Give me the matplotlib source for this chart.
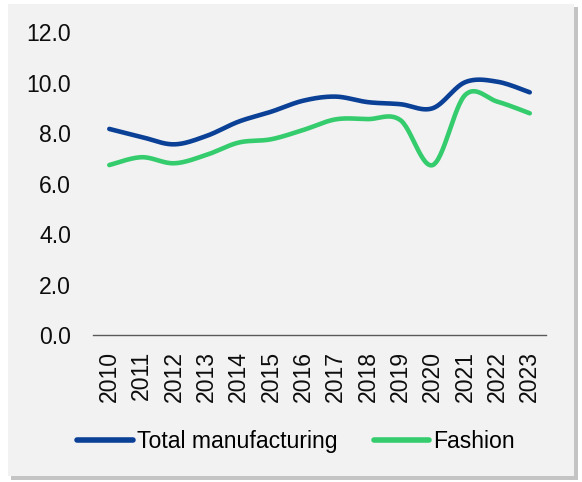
import numpy as np
import matplotlib
matplotlib.use("Agg")
import matplotlib.pyplot as plt
from matplotlib.patches import Rectangle

plt.rcParams['font.family'] = ['Liberation Sans', 'DejaVu Sans']

years = ["2010", "2011", "2012", "2013", "2014", "2015", "2016",
         "2017", "2018", "2019", "2020", "2021", "2022", "2023"]
total_manufacturing = [8.18, 7.86, 7.57, 7.90, 8.47, 8.86, 9.30,
                       9.46, 9.24, 9.16, 9.00, 10.03, 10.05, 9.63]
fashion = [6.75, 7.06, 6.82, 7.15, 7.64, 7.77, 8.14,
           8.56, 8.57, 8.53, 6.75, 9.52, 9.26, 8.80]

blue = "#0B4097"
green = "#35CC6E"


def smooth(xs, ys, n=30):
    # excel-like smoothed line: cubic bezier between points
    p = np.column_stack([xs, ys]).astype(float)
    ext = np.vstack([p[0], p, p[-1]])
    out = []
    t = np.linspace(0, 1, n)[:, None]
    for i in range(1, len(ext) - 2):
        p0, p1, p2, p3 = ext[i - 1], ext[i], ext[i + 1], ext[i + 2]
        c1 = p1 + (p2 - p0) / 6
        c2 = p2 - (p3 - p1) / 6
        seg = ((1 - t) ** 3) * p1 + 3 * ((1 - t) ** 2) * t * c1 + 3 * (1 - t) * t ** 2 * c2 + t ** 3 * p2
        out.append(seg if i == 1 else seg[1:])
    out = np.vstack(out)
    return out[:, 0], out[:, 1]


fig = plt.figure(figsize=(5.82, 4.82), dpi=100, facecolor="white")
# panel with a soft shadow
fig.patches.append(Rectangle((11 / 582, 2 / 482), 567 / 582, 1 - 9 / 482, transform=fig.transFigure,
                             facecolor="#C4C4C4", edgecolor="none", zorder=-2))
fig.patches.append(Rectangle((8 / 582, 6 / 482), 566 / 582, 1 - 10 / 482, transform=fig.transFigure,
                             facecolor="#F2F2F2", edgecolor="none", zorder=-1))

ax = fig.add_axes([0.160, 0.304, 0.778, 0.6286])
ax.set_facecolor("none")

x = np.arange(len(years))
sx, sy = smooth(x, total_manufacturing)
ax.plot(sx, sy, color=blue, lw=3.3, solid_capstyle="round", label="Total manufacturing")
sx, sy = smooth(x, fashion)
ax.plot(sx, sy, color=green, lw=3.3, solid_capstyle="round", label="Fashion")

ax.set_xlim(-0.5, len(years) - 0.5)
ax.set_ylim(0, 12)
ax.set_yticks(np.arange(0, 12.1, 2))
ax.set_yticklabels([f"{v:.1f}" for v in np.arange(0, 12.1, 2)])
ax.set_xticks(x)
ax.set_xticklabels(years, rotation=90)
ax.tick_params(axis="both", length=0, labelsize=16.6, colors="#0D0D0D")
ax.tick_params(axis="y", pad=16)
ax.tick_params(axis="x", pad=11)

for s in ["top", "right", "left"]:
    ax.spines[s].set_visible(False)
ax.spines["bottom"].set_color("#595959")
ax.spines["bottom"].set_linewidth(1.0)

leg = fig.legend(loc="center", bbox_to_anchor=(0.509, 0.083), ncol=2, frameon=False,
                 fontsize=16.6, handlelength=2.4, handletextpad=0.2, columnspacing=1.55)
for h in leg.get_lines():
    h.set_linewidth(4)
    h.set_solid_capstyle("round")

fig.savefig("out.png", dpi=100)
